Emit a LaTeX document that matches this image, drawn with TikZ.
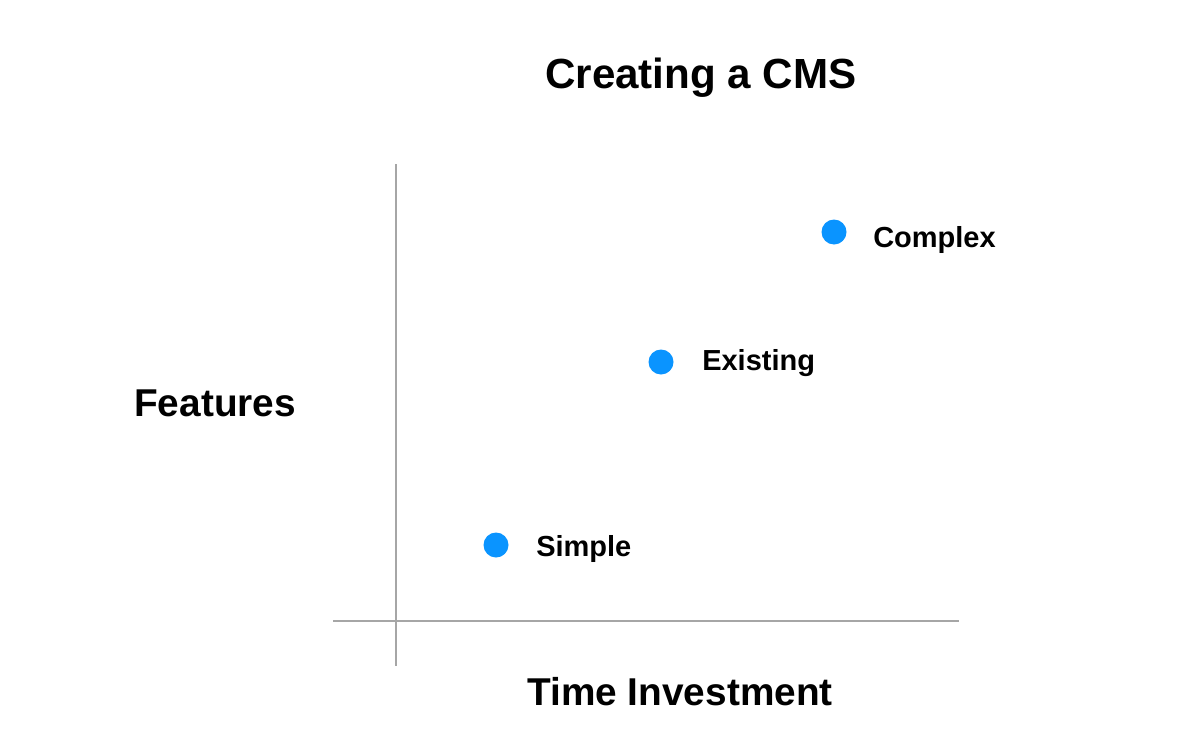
\documentclass[tikz,border=0pt]{standalone}
\usepackage{fontspec}
\setmainfont{Liberation Sans}
\definecolor{dotblue}{RGB}{10,148,255}
\definecolor{axisgray}{RGB}{166,166,166}
\begin{document}
\begin{tikzpicture}[x=0.75pt,y=-0.75pt,
  lbl/.style={anchor=base west,inner sep=0pt,font=\bfseries\fontsize{21.75}{26}\selectfont},
  axlbl/.style={anchor=base west,inner sep=0pt,font=\bfseries\fontsize{29.1}{34}\selectfont},
  ttl/.style={anchor=base west,inner sep=0pt,font=\bfseries\fontsize{31.6}{38}\selectfont},
  dot/.style={circle,fill=dotblue,inner sep=0pt,minimum size=18.75pt},
  axis/.style={draw=axisgray,line width=1.5pt}]
\useasboundingbox (0,0) rectangle (1182,750);
\node[ttl] (title) at (545,88) {Creating a CMS};
\coordinate (ytop) at (396,164);
\coordinate (ybot) at (396,666);
\coordinate (xleft) at (333,621);
\coordinate (xright) at (959,621);
\draw[axis] (ytop) -- (ybot);
\draw[axis] (xleft) -- (xright);
\node[axlbl] (features) at (134,416) {Features};
\node[axlbl] (time) at (527,705) {Time Investment};
\node[dot] (dsimple) at (496,545) {};
\node[dot] (dexisting) at (661,362) {};
\node[dot] (dcomplex) at (834,232) {};
\node[lbl] (simple) at (536,556) {Simple};
\node[lbl] (existing) at (702,370) {Existing};
\node[lbl] (complex) at (873,247) {Complex};
\end{tikzpicture}
\end{document}
